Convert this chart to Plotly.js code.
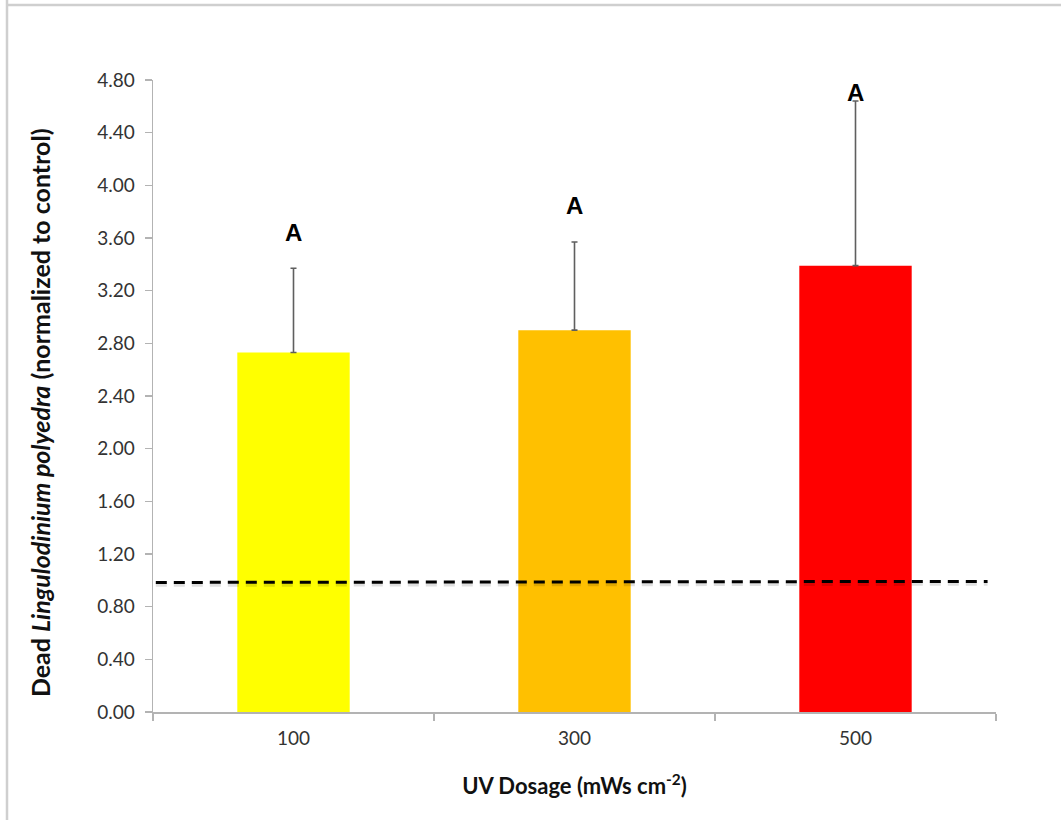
<!DOCTYPE html>
<html>
<head>
<meta charset="utf-8">
<script src="https://cdn.plot.ly/plotly-3.0.1.min.js"></script>
<style>
  html, body { margin: 0; padding: 0; background: #ffffff; }
  #chart { width: 1061px; height: 820px; }
</style>
</head>
<body>
<div id="chart"></div>
<script>
// UV dosage treatments (mWs cm^-2)
const dosages = ['100', '300', '500'];
// Dead L. polyedra, normalized to the untreated control
const deadNormalized = [2.73, 2.90, 3.39];
// Upper standard error
const errorUpper = [0.64, 0.67, 1.25];
// Statistical grouping letters
const groupLetters = ['A', 'A', 'A'];
// Control level (dashed reference line), left and right ends
const controlLevel = [0.984, 0.992];
// Y tick values
const yTicks = [0, 0.4, 0.8, 1.2, 1.6, 2.0, 2.4, 2.8, 3.2, 3.6, 4.0, 4.4, 4.8];

const barColors = ['#FFFF00', '#FFC000', '#FF0000'];
const fontMain = 'Lato, "Open Sans", sans-serif';

const bars = {
  type: 'bar',
  x: dosages,
  y: deadNormalized,
  width: 0.4,
  marker: { color: barColors, line: { width: 0 } },
  error_y: {
    type: 'data',
    symmetric: false,
    array: errorUpper,
    arrayminus: errorUpper.map(() => 0),
    color: '#5f5f5f',
    thickness: 1.6,
    width: 3
  },
  hoverinfo: 'x+y',
  showlegend: false
};

// Letters sit above each error bar (the tallest one is pulled in to fit);
// x is given as the category index
const letterLift = [0.27, 0.28, 0.065];
const annotations = dosages.map((d, i) => ({
  xref: 'x', yref: 'y',
  x: i,
  y: deadNormalized[i] + errorUpper[i] + letterLift[i],
  text: '<b>' + groupLetters[i] + '</b>',
  showarrow: false,
  xanchor: 'center',
  yanchor: 'middle',
  font: { family: '"Liberation Sans", Arial, sans-serif', size: 24, color: '#000000' }
}));

// Y-axis title, placed as a rotated annotation
annotations.push({
  xref: 'paper', yref: 'paper',
  x: -0.134, y: 0.473,
  xanchor: 'center', yanchor: 'middle',
  textangle: -90,
  showarrow: false,
  text: '<b>Dead <i>Lingulodinium polyedra</i> (normalized to control)</b>',
  font: { family: fontMain, size: 25, color: '#111111' }
});

const shapes = [
  // soft shadow under the control line
  {
    type: 'line', xref: 'x', yref: 'y',
    x0: -0.49, x1: 2.47, y0: controlLevel[0] - 0.018, y1: controlLevel[1] - 0.018,
    line: { color: 'rgba(0,0,0,0.12)', width: 4, dash: '11px,7px' }
  },
  // control level
  {
    type: 'line', xref: 'x', yref: 'y',
    x0: -0.49, x1: 2.47, y0: controlLevel[0], y1: controlLevel[1],
    line: { color: '#000000', width: 3, dash: '11px,7px' }
  },
  // figure frame (left and top edges)
  {
    type: 'line', xref: 'paper', yref: 'paper', layer: 'below',
    xsizemode: 'pixel', ysizemode: 'pixel', xanchor: 0, yanchor: 0,
    x0: -146, x1: -146, y0: -112, y1: 713,
    line: { color: '#cfcfcf', width: 2.5 }
  },
  {
    type: 'line', xref: 'paper', yref: 'paper', layer: 'below',
    xsizemode: 'pixel', ysizemode: 'pixel', xanchor: 0, yanchor: 0,
    x0: -146, x1: 920, y0: 707, y1: 707,
    line: { color: '#cfcfcf', width: 2.5 }
  }
];

const layout = {
  width: 1061,
  height: 820,
  margin: { l: 153, r: 65, t: 80, b: 108, pad: 0 },
  paper_bgcolor: '#ffffff',
  plot_bgcolor: '#ffffff',
  font: { family: fontMain, color: '#404040' },
  bargap: 0.6,
  xaxis: {
    type: 'category',
    range: [-0.5, 2.5],
    showline: true,
    linecolor: '#b3b3b3',
    linewidth: 1.5,
    ticks: 'outside',
    tickson: 'boundaries',
    ticklen: 7,
    tickwidth: 1.5,
    tickcolor: '#b3b3b3',
    ticklabelstandoff: 9,
    showgrid: false,
    zeroline: false,
    tickfont: { family: fontMain, size: 19, color: '#333333' },
    title: {
      text: '<b>UV Dosage (mWs cm<sup>-2</sup>)</b>',
      font: { family: fontMain, size: 22, color: '#111111' },
      standoff: 30
    },
    automargin: false,
    fixedrange: true
  },
  yaxis: {
    range: [0, 4.8],
    tickvals: yTicks,
    ticktext: yTicks.map(v => v.toFixed(2)),
    showline: true,
    linecolor: '#b3b3b3',
    linewidth: 1.5,
    ticks: 'outside',
    ticklen: 7,
    tickwidth: 1.5,
    tickcolor: '#b3b3b3',
    ticklabelstandoff: 6,
    showgrid: false,
    zeroline: false,
    tickfont: { family: fontMain, size: 19, color: '#333333' },
    automargin: false,
    fixedrange: true
  },
  annotations: annotations,
  shapes: shapes,
  showlegend: false
};

Plotly.newPlot('chart', [bars], layout, { displayModeBar: false, staticPlot: true });
</script>
</body>
</html>
